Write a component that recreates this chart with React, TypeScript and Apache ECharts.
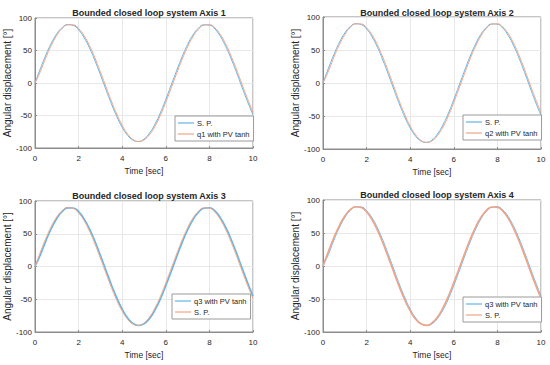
import React, { useEffect, useRef } from "react";
import * as echarts from "echarts";

const TIME = [0, 0.25, 0.5, 0.75, 1, 1.25, 1.5, 1.75, 2, 2.25, 2.5, 2.75, 3, 3.25, 3.5, 3.75, 4, 4.25, 4.5, 4.75, 5, 5.25, 5.5, 5.75, 6, 6.25, 6.5, 6.75, 7, 7.25, 7.5, 7.75, 8, 8.25, 8.5, 8.75, 9, 9.25, 9.5, 9.75, 10];

const SET_POINT = [0, 22.3, 43.1, 61.3, 75.7, 85.4, 89.8, 88.6, 81.8, 70.0, 53.9, 34.4, 12.7, -9.7, -31.6, -51.4, -68.1, -80.6, -88.0, -89.9, -86.3, -77.3, -63.5, -45.9, -25.1, -3.0, 19.4, 40.5, 59.1, 74.1, 84.4, 89.5, 89.0, 83.1, 71.9, 56.2, 37.1, 15.7, -6.8, -28.8, -49.0];

const TRACKED = [0, 17.9, 39.2, 58.0, 73.3, 84.0, 89.5, 89.4, 83.7, 72.8, 57.5, 38.6, 17.2, -5.2, -27.4, -47.7, -65.2, -78.6, -87.1, -90.0, -87.6, -79.6, -66.7, -49.8, -29.4, -7.5, 15.0, 36.5, 55.7, 71.5, 82.8, 89.0, 89.7, 84.8, 74.6, 59.7, 41.2, 20.1, -2.3, -24.5, -45.2];

const TITLES = [
  "Bounded closed loop system Axis 1",
  "Bounded closed loop system Axis 2",
  "Bounded closed loop system Axis 3",
  "Bounded closed loop system Axis 4",
];
const TRACK_NAMES = ["q1 with PV tanh", "q2 with PV tanh", "q3 with PV tanh", "q3 with PV tanh"];
const SP_NAME = "S. P.";
const X_NAME = "Time [sec]";
const Y_NAME = "Angular displacement [°]";

const BLUE = "#62b5e8";
const ORANGE = "#f2a385";
const TEXT = "#262626";
const FONT = "Liberation Sans, Arial, sans-serif";

const GRIDS = [
  { left: 35, top: 18, width: 218, height: 130 },
  { left: 323, top: 17, width: 218, height: 132 },
  { left: 35, top: 201, width: 218, height: 131 },
  { left: 323, top: 200, width: 218, height: 132 },
];
const LEGENDS = [
  { left: 175, top: 116 },
  { left: 463, top: 115 },
  { left: 172, top: 294 },
  { left: 463, top: 297 },
];
const TITLE_POS = [
  { left: 144, top: 3 },
  { left: 432, top: 3 },
  { left: 144, top: 186 },
  { left: 432, top: 185 },
];

export default function App() {
  const ref = useRef<HTMLDivElement>(null);
  useEffect(() => {
    if (!ref.current) return;
    const chart = echarts.init(ref.current, undefined, { renderer: "svg" });
    const sp = TIME.map((t, i) => [t, SET_POINT[i]]);
    const tr = TIME.map((t, i) => [t, TRACKED[i]]);
    const series: any[] = [];
    const legends: any[] = [];
    for (let k = 0; k < 4; k++) {
      const spColor = k < 2 ? BLUE : ORANGE;
      const trColor = k < 2 ? ORANGE : BLUE;
      const spSeries = {
        type: "line",
        name: SP_NAME,
        xAxisIndex: k,
        yAxisIndex: k,
        data: sp,
        smooth: true,
        symbol: "none",
        lineStyle: { color: spColor, width: k === 3 ? 1.6 : 1 },
        itemStyle: { color: spColor },
      };
      const trSeries = {
        type: "line",
        name: TRACK_NAMES[k],
        xAxisIndex: k,
        yAxisIndex: k,
        data: tr,
        smooth: true,
        symbol: "none",
        lineStyle: { color: trColor, width: k === 2 ? 1.6 : 1 },
        itemStyle: { color: trColor },
      };
      const order = k < 2 ? [spSeries, trSeries] : [trSeries, spSeries];
      order.forEach((s) => series.push(s));
      legends.push({
        ...LEGENDS[k],
        orient: "vertical",
        data: order.map((s) => ({
          name: s.name,
          icon: "rect",
          itemStyle: { color: s.lineStyle.color, borderWidth: 0 },
        })),
        backgroundColor: "#ffffff",
        borderColor: "#9a9a9a",
        borderWidth: 1,
        padding: [3, 4, 3, 3],
        itemGap: 3,
        itemWidth: 16,
        itemHeight: 1.2,
        selectedMode: false,
        textStyle: { fontSize: 7.5, color: TEXT, fontFamily: FONT, padding: [0, 0, 0, -2] },
      });
    }
    const axisColor = "#8c8c8c";
    const option: any = {
      animation: false,
      backgroundColor: "#ffffff",
      title: TITLES.map((t, k) => ({
        text: t,
        ...TITLE_POS[k],
        textAlign: "center",
        textStyle: { fontSize: 9, fontWeight: "bold", color: TEXT, fontFamily: FONT },
      })),
      grid: GRIDS.map((g) => ({ ...g, show: true, borderColor: axisColor, borderWidth: 1, backgroundColor: "#ffffff" })),
      xAxis: GRIDS.map((_, k) => ({
        type: "value",
        gridIndex: k,
        min: 0,
        max: 10,
        interval: 2,
        name: X_NAME,
        nameLocation: "middle",
        nameGap: 18,
        nameTextStyle: { fontSize: 8.5, color: TEXT, fontFamily: FONT },
        axisLine: { show: true, onZero: false, lineStyle: { color: axisColor } },
        axisTick: { show: true, inside: true, length: 2, lineStyle: { color: axisColor } },
        axisLabel: { fontSize: 8, color: TEXT, fontFamily: FONT, margin: 6 },
        splitLine: { show: true, lineStyle: { color: "#e8e8e8", width: 1 } },
      })),
      yAxis: GRIDS.map((_, k) => ({
        type: "value",
        gridIndex: k,
        min: -100,
        max: 100,
        interval: 50,
        name: Y_NAME,
        nameLocation: "middle",
        nameGap: 19,
        nameTextStyle: { fontSize: 10, color: TEXT, fontFamily: FONT },
        axisLine: { show: true, onZero: false, lineStyle: { color: axisColor } },
        axisTick: { show: true, inside: true, length: 2, lineStyle: { color: axisColor } },
        axisLabel: { fontSize: 8, color: TEXT, fontFamily: FONT, margin: 3 },
        splitLine: { show: true, lineStyle: { color: "#e8e8e8", width: 1 } },
      })),
      legend: legends,
      series,
    };
    chart.setOption(option);
    return () => chart.dispose();
  }, []);
  return (
    <div
      ref={ref}
      style={{ position: "fixed", left: 0, top: 0, width: 550, height: 365 }}
    />
  );
}
